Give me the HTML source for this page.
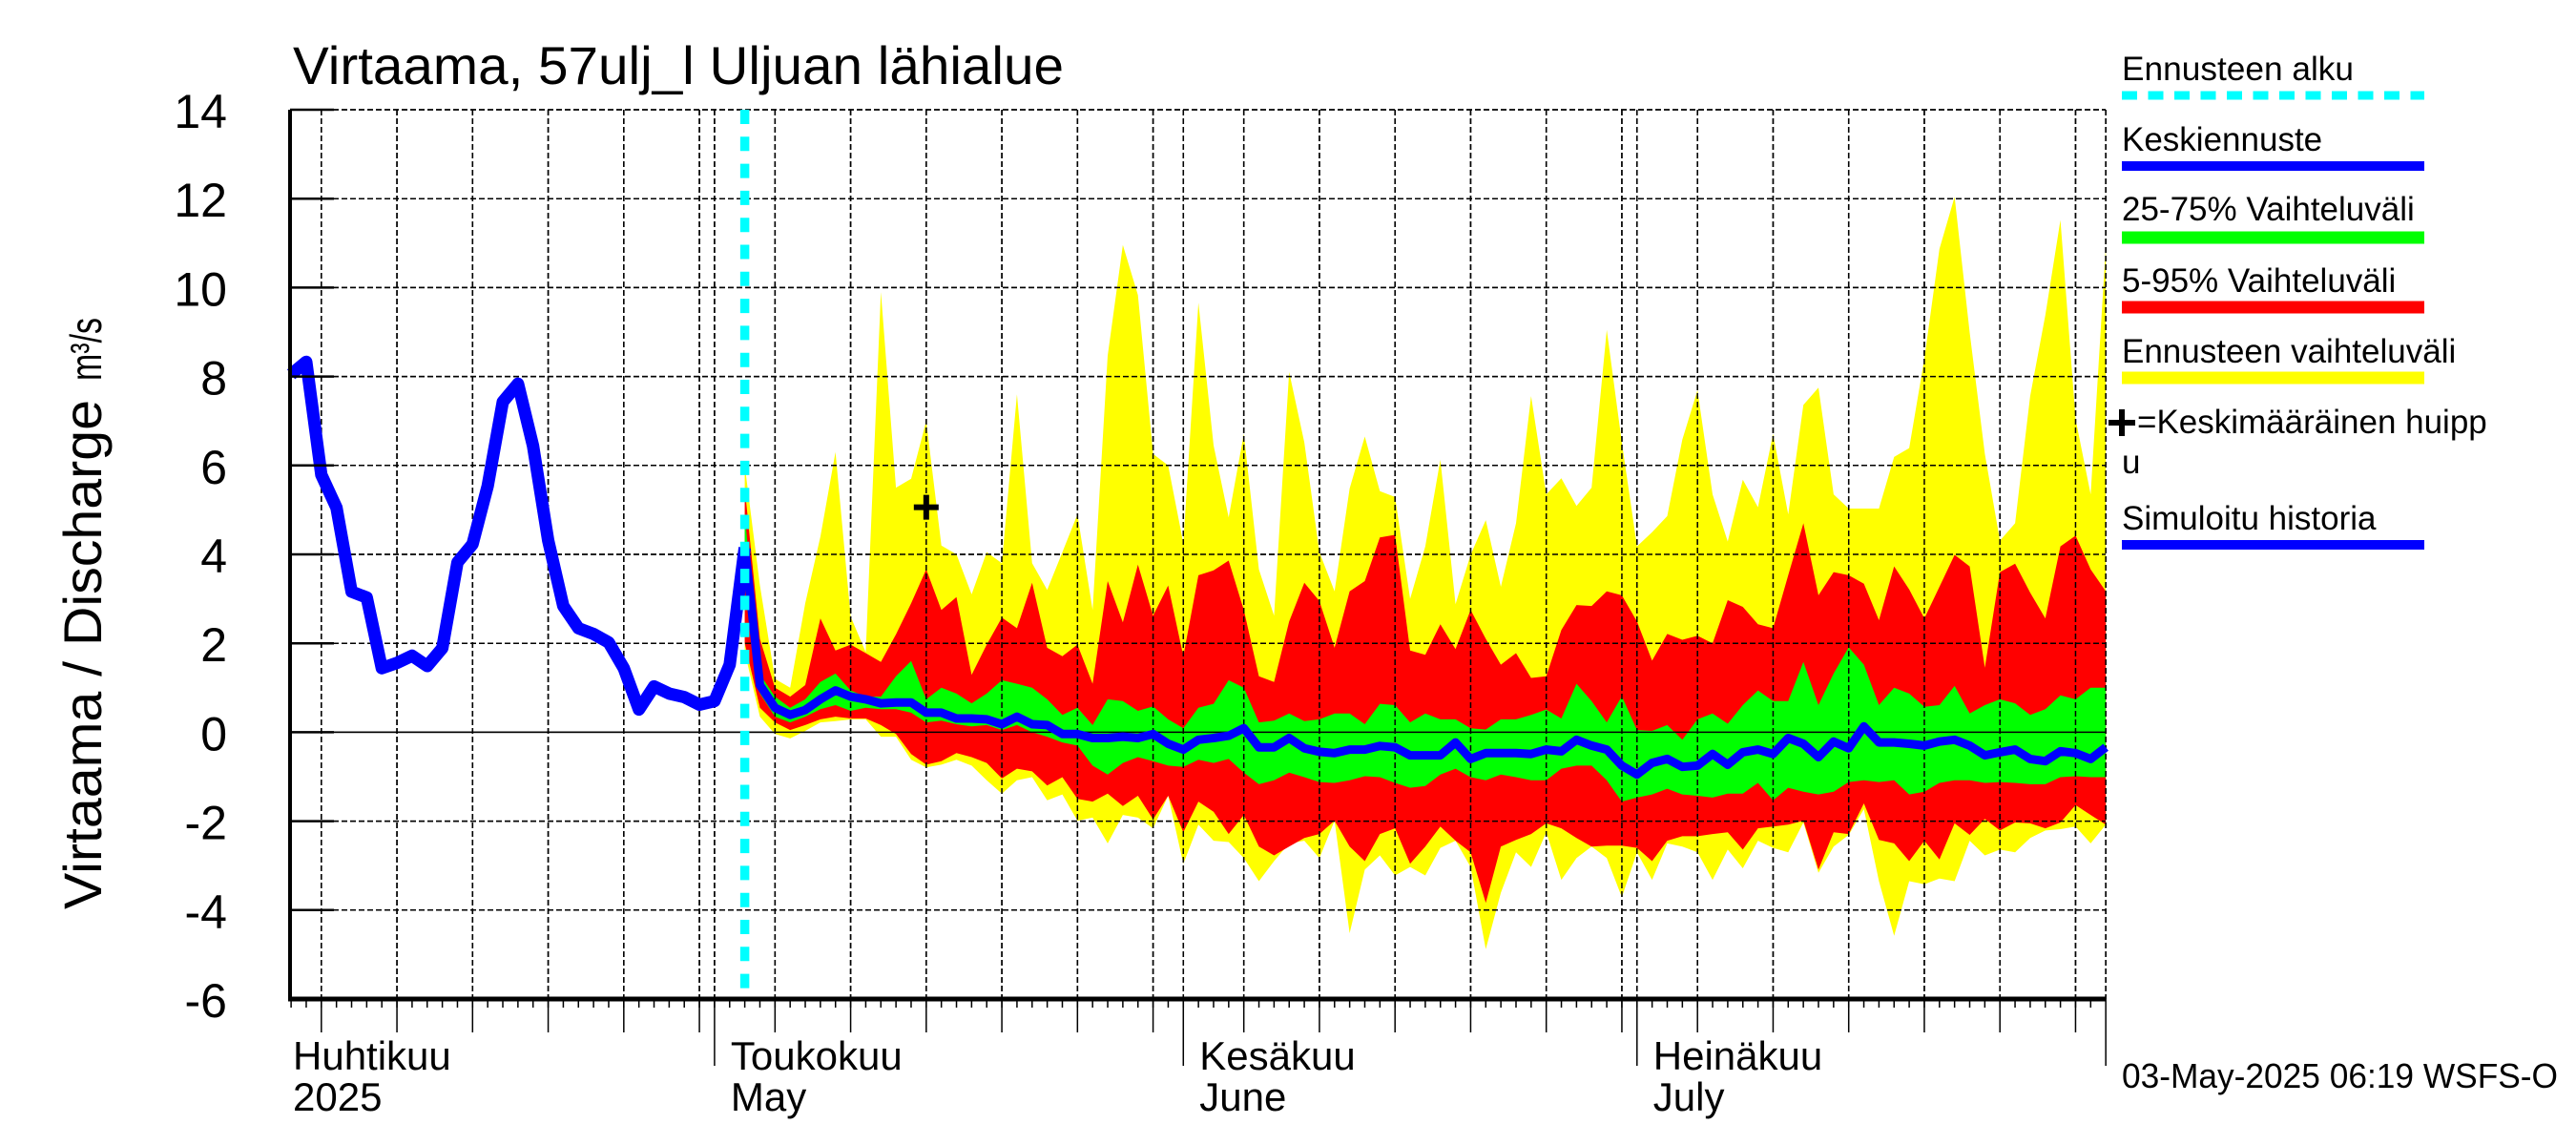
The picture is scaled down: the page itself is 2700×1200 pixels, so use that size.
<!DOCTYPE html>
<html><head><meta charset="utf-8"><style>
html,body{margin:0;padding:0;background:#fff;}
svg{display:block;font-family:"Liberation Sans",Arial,sans-serif;}
</style></head><body>
<svg id="chart" width="2700" height="1200" viewBox="0 0 2700 1200" xmlns="http://www.w3.org/2000/svg">
<rect x="0" y="0" width="2700" height="1200" fill="#fff"/>
<text x="307" y="88" font-size="56" textLength="808" lengthAdjust="spacingAndGlyphs">Virtaama, 57ulj_l Uljuan lähialue</text>
<g>
<text transform="translate(106,686) rotate(-90)" text-anchor="middle" font-size="56" textLength="534" lengthAdjust="spacingAndGlyphs">Virtaama / Discharge</text>
<text transform="translate(106,366) rotate(-90)" text-anchor="middle" font-size="46" textLength="66" lengthAdjust="spacingAndGlyphs">m³/s</text>
</g>
<g id="grid"></g>
<g id="bands"></g>
<g id="lines"></g>
<g id="axes"></g>
<g font-size="35">
<text x="2224" y="84" textLength="243" lengthAdjust="spacingAndGlyphs">Ennusteen alku</text>
<line x1="2224" y1="100" x2="2541" y2="100" stroke="#00ffff" stroke-width="9" stroke-dasharray="16,11.5"/>
<text x="2224" y="158">Keskiennuste</text>
<line x1="2224" y1="174" x2="2541" y2="174" stroke="#0000ff" stroke-width="10"/>
<text x="2224" y="231">25-75% Vaihteluväli</text>
<line x1="2224" y1="249" x2="2541" y2="249" stroke="#00ff00" stroke-width="13"/>
<text x="2224" y="306">5-95% Vaihteluväli</text>
<line x1="2224" y1="322" x2="2541" y2="322" stroke="#ff0000" stroke-width="13"/>
<text x="2224" y="380">Ennusteen vaihteluväli</text>
<line x1="2224" y1="396" x2="2541" y2="396" stroke="#ffff00" stroke-width="13"/>
<path d="M2210 443 H2238 M2224 429 V457" stroke="#000" stroke-width="6"/>
<text x="2240" y="454">=Keskimääräinen huipp</text>
<text x="2224" y="496">u</text>
<text x="2224" y="555">Simuloitu historia</text>
<line x1="2224" y1="571" x2="2541" y2="571" stroke="#0000ff" stroke-width="10"/>
</g>
<text x="2224" y="1140" font-size="36" textLength="457" lengthAdjust="spacingAndGlyphs">03-May-2025 06:19 WSFS-O</text>
</svg>
<script>
// ---- data ----
const yTicks = [14,12,10,8,6,4,2,0,-2,-4,-6];
const yTickLabels = ["14","12","10","8","6","4","2","0","-2","-4","-6"];
const gridDays = [4,9,14,19,24,29, 34,39,44,49,54,59, 65,70,75,80,85,90, 95,100,105,110,115,120]; // days since Apr 1 (0-based)
const monthStartDays = [30,61,91,122];
const monthLabels = ["Huhtikuu","Toukokuu","Kesäkuu","Heinäkuu"];
const monthLabelsEn = ["2025","May","June","July"];
const monthLabelDays = [-1,30,61,91];
const histStartDay = 2; // Apr 3
const histValues = [8.05,8.33,5.79,5.05,3.16,3.03,1.44,1.56,1.72,1.49,1.89,3.82,4.23,5.54,7.43,7.84,6.44,4.31,2.84,2.34,2.21,2.02,1.44,0.51,1.03,0.87,0.79,0.62,0.70,1.52,4.15];
const fcStartDay = 32; // May 3
const yellowTop = [6.0,3.3,1.2,1.0,2.9,4.4,6.3,2.6,1.8,9.9,5.5,5.7,7.0,4.2,4.0,3.1,4.05,3.8,7.6,3.8,3.2,4.05,4.9,
2.75,8.47,10.96,9.83,6.26,6.0,4.25,9.66,6.45,4.83,6.71,3.66,2.62,8.1,6.52,4.05,3.17,5.48,6.65,5.42,5.29,3.0,4.18,6.13,
2.88,3.99,4.77,3.27,4.7,7.56,5.35,5.71,5.09,5.5,9.05,6.52,4.18,4.5,4.86,6.58,7.69,5.35,4.29,5.68,5.06,6.71,4.9,
7.36,7.75,5.35,5.03,5.03,5.03,6.19,6.39,8.4,10.87,12.04,8.99,6.26,4.31,4.7,7.56,9.38,11.52,7.04,5.35,10.94];
const redTop = [5.5,2.1,1.0,0.8,1.06,2.56,1.84,1.97,1.78,1.58,2.2,2.9,3.66,2.75,3.04,1.29,1.97,2.58,2.34,3.36,1.9,1.71,1.97,
1.09,3.4,2.47,3.77,2.62,3.3,1.71,3.53,3.64,3.86,2.75,1.26,1.13,2.49,3.36,2.95,1.9,3.17,3.4,4.38,4.44,1.84,1.74,2.43,
1.87,2.75,2.1,1.52,1.78,1.22,1.26,2.3,2.86,2.84,3.17,3.08,2.49,1.61,2.21,2.08,2.17,2.0,2.97,2.82,2.43,2.34,3.53,
4.7,3.08,3.6,3.53,3.34,2.52,3.73,3.21,2.56,3.27,3.99,3.73,1.45,3.6,3.79,3.14,2.56,4.18,4.42,3.66,3.17];
const greenTop = [4.9,1.3,0.8,0.55,0.74,1.13,1.32,0.94,0.8,0.8,1.26,1.6,0.74,1.0,0.87,0.65,0.87,1.17,1.09,1.0,0.74,0.39,0.55,
0.16,0.74,0.7,0.48,0.58,0.29,0.09,0.55,0.64,1.17,1.0,0.22,0.26,0.42,0.25,0.29,0.42,0.42,0.18,0.64,0.61,0.22,0.42,0.29,
0.29,0.09,0.06,0.29,0.29,0.39,0.51,0.31,1.09,0.7,0.22,0.81,0.05,0.03,0.16,-0.17,0.29,0.42,0.19,0.61,0.94,0.7,0.7,
1.58,0.61,1.32,1.91,1.52,0.61,1.0,0.87,0.57,0.61,1.04,0.42,0.61,0.74,0.65,0.39,0.52,0.83,0.74,1.0,1.0];
const median = [4.2,1.06,0.55,0.39,0.5,0.74,0.94,0.8,0.74,0.65,0.67,0.67,0.44,0.44,0.31,0.31,0.29,0.18,0.35,0.18,0.16,-0.04,-0.04,
-0.13,-0.13,-0.1,-0.13,-0.04,-0.26,-0.39,-0.17,-0.13,-0.08,0.09,-0.34,-0.34,-0.13,-0.36,-0.44,-0.47,-0.39,-0.39,-0.31,-0.34,-0.52,-0.52,-0.52,
-0.23,-0.6,-0.47,-0.47,-0.47,-0.49,-0.39,-0.43,-0.17,-0.3,-0.39,-0.75,-0.95,-0.69,-0.6,-0.78,-0.75,-0.49,-0.73,-0.45,-0.39,-0.49,-0.13,
-0.26,-0.56,-0.21,-0.36,0.13,-0.23,-0.23,-0.26,-0.3,-0.21,-0.17,-0.3,-0.52,-0.45,-0.39,-0.6,-0.65,-0.43,-0.47,-0.6,-0.34];
const greenBot = [3.3,0.87,0.35,0.22,0.35,0.52,0.61,0.48,0.55,0.52,0.52,0.44,0.22,0.26,0.18,0.13,0.16,0.05,0.16,0,-0.1,-0.23,-0.3,
-0.75,-0.95,-0.69,-0.56,-0.65,-0.75,-0.78,-0.62,-0.69,-0.6,-0.91,-1.17,-1.08,-0.91,-1.01,-1.12,-1.14,-1.08,-0.99,-1.01,-1.14,-1.25,-1.21,-0.95,
-0.82,-1.01,-1.08,-0.95,-1.01,-1.08,-1.08,-0.82,-0.75,-0.75,-1.08,-1.56,-1.47,-1.4,-1.27,-1.4,-1.43,-1.47,-1.38,-1.38,-1.14,-1.53,-1.25,
-1.34,-1.4,-1.34,-1.12,-1.08,-1.12,-1.08,-1.4,-1.34,-1.14,-1.08,-1.08,-1.14,-1.12,-1.14,-1.17,-1.17,-1.01,-0.99,-1.01,-1.01];
const redBot = [2.0,0.55,0.22,0.05,0.16,0.29,0.35,0.31,0.31,0.16,-0.04,-0.49,-0.73,-0.65,-0.47,-0.56,-0.69,-1.04,-0.82,-0.88,-1.2,-1.01,-1.5,
-1.56,-1.38,-1.66,-1.43,-1.96,-1.43,-2.25,-1.56,-1.79,-2.29,-1.86,-2.57,-2.77,-2.57,-2.38,-2.29,-1.99,-2.57,-2.9,-2.29,-2.16,-2.96,-2.57,-2.12,
-2.44,-2.7,-3.84,-2.57,-2.42,-2.29,-2.05,-2.16,-2.38,-2.57,-2.55,-2.55,-2.6,-2.9,-2.44,-2.34,-2.34,-2.29,-2.25,-2.64,-2.16,-2.12,-2.08,
-1.99,-3.09,-2.25,-2.29,-1.6,-2.42,-2.5,-2.9,-2.44,-2.86,-2.05,-2.31,-1.95,-2.21,-2.03,-2.05,-2.16,-2.03,-1.64,-1.86,-2.08];
const yellowBot = [1.8,0.35,-0.04,-0.14,0.03,0.22,0.25,0.29,0.29,-0.1,-0.1,-0.62,-0.79,-0.73,-0.62,-0.75,-1.08,-1.38,-1.08,-1.01,-1.53,-1.4,-1.99,
-1.92,-2.5,-1.86,-1.92,-2.16,-1.43,-2.96,-2.08,-2.44,-2.47,-2.83,-3.35,-2.9,-2.5,-2.44,-2.83,-1.99,-4.52,-3.09,-2.77,-3.22,-3.03,-3.22,-2.6,
-2.44,-3.03,-4.88,-3.61,-2.7,-3.03,-2.25,-3.32,-2.83,-2.57,-2.83,-3.71,-2.7,-3.32,-2.5,-2.57,-2.7,-3.32,-2.64,-3.06,-2.44,-2.6,-2.7,
-2.03,-3.16,-2.57,-2.31,-1.73,-3.35,-4.58,-3.35,-3.42,-3.29,-3.35,-2.44,-2.77,-2.64,-2.7,-2.38,-2.21,-2.18,-2.12,-2.5,-2.08];
const peakDay = [44];
const peakValue = [5.06];
const forecastStartDay = [32];

// ---- scales ----
const X0 = 304, X1 = 2207, DAY0 = 1.93, DAY1 = 121.99;
const Y_TOP = 115, Y_BOT = 1047, VMAX = 14, VMIN = -6;
function x(d){ return X0 + (d - DAY0) * (X1 - X0) / (DAY1 - DAY0); }
function y(v){ return Y_TOP + (VMAX - v) * (Y_BOT - Y_TOP) / (VMAX - VMIN); }

const NS = "http://www.w3.org/2000/svg";
function mk(tag, attrs, parent){
  const e = document.createElementNS(NS, tag);
  for (const k in attrs) e.setAttribute(k, attrs[k]);
  parent.appendChild(e); return e;
}
const grid = document.getElementById('grid');
const bands = document.getElementById('bands');
const lines = document.getElementById('lines');
const axes = document.getElementById('axes');

yTicks.forEach((v,i)=>{
  const ln = mk('line',{x1:X0,x2:X1,y1:y(v),y2:y(v),stroke:'#000','stroke-width':1.5,'stroke-dasharray':v===0?'none':'6,3'},grid);
  
  
  const t = mk('text',{x:238,y:y(v)+19,'text-anchor':'end','font-size':50},axes);
  t.textContent = yTickLabels[i];
  
  
  const tk = mk('line',{x1:X0,x2:350,y1:y(v),y2:y(v),stroke:'#000','stroke-width':2.5},axes);
  
  
});
gridDays.forEach(d=>{
  const ln = mk('line',{x1:x(d),x2:x(d),y1:Y_TOP,y2:Y_BOT,stroke:'#000','stroke-width':1.5,'stroke-dasharray':'6,3'},grid);
  
  
  const tk = mk('line',{x1:x(d),x2:x(d),y1:Y_BOT,y2:1082,stroke:'#000','stroke-width':1.5},axes);
  
  
});
for (let d=2; d<=121; d++){
  const tk = mk('line',{x1:x(d),x2:x(d),y1:Y_BOT,y2:1056,stroke:'#000','stroke-width':1.5},axes);
  
  
}
monthStartDays.forEach(d=>{
  const ln = mk('line',{x1:x(d),x2:x(d),y1:Y_TOP,y2:Y_BOT,stroke:'#000','stroke-width':1.5,'stroke-dasharray':'6,3'},grid);
  
  
  const tk = mk('line',{x1:x(d),x2:x(d),y1:Y_BOT,y2:1117,stroke:'#000','stroke-width':1.5},axes);
  
  
});
monthLabels.forEach((m,i)=>{
  const lx = i===0 ? 307 : x(monthLabelDays[i]) + 17;
  const t1 = mk('text',{x:lx,y:1121,'font-size':42},axes);
  t1.textContent = m;
  
  
  const t2 = mk('text',{x:lx,y:1164,'font-size':42},axes);
  t2.textContent = monthLabelsEn[i];
  
  
});
const la = mk('line',{x1:X0,x2:X0,y1:Y_TOP,y2:Y_BOT+2,stroke:'#000','stroke-width':4},axes);


const ba = mk('line',{x1:X0-2,x2:X1,y1:Y_BOT,y2:Y_BOT,stroke:'#000','stroke-width':5},axes);



function band(top, bot, color, name){
  let p = '';
  top.forEach((v,i)=>{ p += (i?'L':'M') + x(fcStartDay+i).toFixed(1) + ' ' + y(v).toFixed(1) + ' '; });
  for (let i=bot.length-1;i>=0;i--){ p += 'L' + x(fcStartDay+i).toFixed(1) + ' ' + y(bot[i]).toFixed(1) + ' '; }
  const e = mk('path',{d:p+'Z',fill:color,stroke:'none'},bands);
  
  
}
band(yellowTop, yellowBot, '#ffff00', 'band-full-range');
band(redTop, redBot, '#ff0000', 'band-5-95');
band(greenTop, greenBot, '#00ff00', 'band-25-75');

const grid2 = grid.cloneNode(true);


bands.parentNode.insertBefore(grid2, lines);

function linePath(start, vals){
  return vals.map((v,i)=>(i?'L':'M') + x(start+i).toFixed(1) + ' ' + y(v).toFixed(1)).join(' ');
}
const hl = mk('path',{d:linePath(histStartDay, histValues),fill:'none',stroke:'#0000ff','stroke-width':13,'stroke-linejoin':'round'},lines);


const ml = mk('path',{d:linePath(fcStartDay, median),fill:'none',stroke:'#0000ff','stroke-width':9,'stroke-linejoin':'round'},lines);


const fs = mk('line',{x1:x(forecastStartDay[0]),x2:x(forecastStartDay[0]),y1:Y_TOP,y2:Y_BOT,stroke:'#00ffff','stroke-width':9.5,'stroke-dasharray':'15,13.3'},lines);


const px = x(peakDay[0]), py = y(peakValue[0]);
const pk = mk('path',{d:`M${px-13} ${py} H${px+13} M${px} ${py-13} V${py+13}`,stroke:'#000','stroke-width':6},lines);


</script>
</body></html>
